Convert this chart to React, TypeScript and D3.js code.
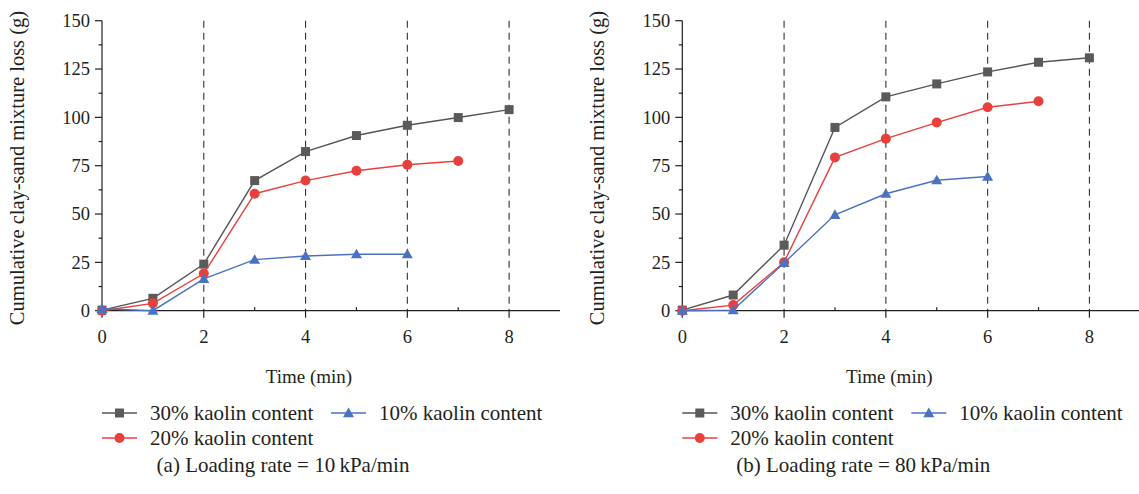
import React from "react";
import * as d3 from "d3";

const timeA = [0, 1, 2, 3, 4, 5, 6, 7, 8];
const a30 = [0.3, 6.4, 24.1, 67.3, 82.3, 90.6, 95.9, 99.9, 104];
const a20 = [0, 3.8, 19.2, 60.5, 67.3, 72.4, 75.5, 77.4];
const a10 = [1, 0, 16.5, 26.4, 28.3, 29.2, 29.2];

const b30 = [0.3, 8.1, 33.9, 94.8, 110.6, 117.3, 123.5, 128.5, 130.8];
const b20 = [0, 2.9, 25.1, 79.3, 89.0, 97.3, 105.2, 108.3];
const b10 = [0, 0.3, 24.7, 49.6, 60.5, 67.5, 69.4];

const yTicks = [0, 25, 50, 75, 100, 125, 150];
const xTicks = [0, 2, 4, 6, 8];
const dashedAt = [2, 4, 6, 8];
const seriesNames = ["30% kaolin content", "20% kaolin content", "10% kaolin content"];
const captions = ["(a) Loading rate = 10\u2009kPa/min", "(b) Loading rate = 80\u2009kPa/min"];

const colors = { s30: "#5a5a5a", s20: "#e8403c", s10: "#4a72c0" };
const FONT = "'Liberation Serif', 'Times New Roman', serif";

function Marker({ kind, x, y, color }: { kind: string; x: number; y: number; color: string }) {
  if (kind === "square") return <rect x={x - 4.5} y={y - 4.5} width={9} height={9} fill={color} />;
  if (kind === "circle") return <circle cx={x} cy={y} r={5} fill={color} />;
  const s = 5.5;
  return <path d={`M${x},${y - s}L${x + s},${y + s * 0.75}L${x - s},${y + s * 0.75}Z`} fill={color} />;
}

function Panel({ ox, s30, s20, s10, caption }: { ox: number; s30: number[]; s20: number[]; s10: number[]; caption: string }) {
  const x = d3.scaleLinear().domain([0, 9]).range([ox + 102, ox + 560]);
  const y = d3.scaleLinear().domain([0, 150]).range([310.7, 20.7]);
  const line = d3.line<number>().x((_, i) => x(timeA[i])).y((d) => y(d));
  const series = [
    { data: s30, color: colors.s30, marker: "square", lc: "#555" },
    { data: s20, color: colors.s20, marker: "circle", lc: colors.s20 },
    { data: s10, color: colors.s10, marker: "triangle", lc: colors.s10 },
  ];
  const minorY = d3.range(12.5, 150, 25);
  const minorX = [1, 3, 5, 7];
  const x0 = x(0);
  const y0 = y(0);
  const legend = [
    { name: seriesNames[0], s: series[0], lx: ox + 102, ly: 413 },
    { name: seriesNames[2], s: series[2], lx: ox + 331, ly: 413 },
    { name: seriesNames[1], s: series[1], lx: ox + 102, ly: 438 },
  ];
  return (
    <g fontFamily={FONT} style={{ fontFamily: FONT }} fill="#231f20">
      {dashedAt.map((t) => (
        <line key={t} x1={x(t)} x2={x(t)} y1={y(150)} y2={y0} stroke="#333" strokeWidth={1.1} strokeDasharray="7,5" />
      ))}
      <line x1={x0} x2={x0} y1={y(150)} y2={y0} stroke="#231f20" strokeWidth={1.2} />
      <line x1={x0} x2={x(9)} y1={y0} y2={y0} stroke="#231f20" strokeWidth={1.2} />
      {yTicks.map((t) => (
        <g key={t}>
          <line x1={x0 - 7} x2={x0} y1={y(t)} y2={y(t)} stroke="#231f20" strokeWidth={1.2} />
          <text x={x0 - 12} y={y(t)} dy="0.34em" textAnchor="end" fontSize={18.5}>{t}</text>
        </g>
      ))}
      {minorY.map((t) => (
        <line key={t} x1={x0 - 3.5} x2={x0} y1={y(t)} y2={y(t)} stroke="#231f20" strokeWidth={1.2} />
      ))}
      {xTicks.map((t) => (
        <g key={t}>
          <line x1={x(t)} x2={x(t)} y1={y0} y2={y0 + 7} stroke="#231f20" strokeWidth={1.2} />
          <text x={x(t)} y={343} textAnchor="middle" fontSize={18.5}>{t}</text>
        </g>
      ))}
      {minorX.map((t) => (
        <line key={t} x1={x(t)} x2={x(t)} y1={y0} y2={y0 - 3.5} stroke="#231f20" strokeWidth={1.2} />
      ))}
      <text transform={`translate(${ox + 24},${168}) rotate(-90)`} textAnchor="middle" fontSize={20.5}>
        Cumulative clay-sand mixture loss (g)
      </text>
      <text x={ox + 309} y={383} textAnchor="middle" fontSize={19}>Time (min)</text>
      {series.map((s, i) => (
        <g key={i}>
          <path d={line(s.data) || ""} fill="none" stroke={s.lc} strokeWidth={1.4} />
          {s.data.map((d, j) => (
            <Marker key={j} kind={s.marker} x={x(timeA[j])} y={y(d)} color={s.color} />
          ))}
        </g>
      ))}
      {legend.map((l, i) => (
        <g key={i}>
          <line x1={l.lx} x2={l.lx + 35} y1={l.ly} y2={l.ly} stroke={l.s.lc} strokeWidth={1.6} />
          <Marker kind={l.s.marker} x={l.lx + 17.5} y={l.ly} color={l.s.color} />
          <text x={l.lx + 48} y={l.ly} dy="0.33em" fontSize={21}>{l.name}</text>
        </g>
      ))}
      <text x={ox + 283} y={472} textAnchor="middle" fontSize={21}>{caption}</text>
    </g>
  );
}

export default function App() {
  return (
    <svg width={1139} height={494} style={{ position: "absolute", left: 0, top: 0, background: "#fff" }}>
      <rect width={1139} height={494} fill="#fff" />
      <Panel ox={0} s30={a30} s20={a20} s10={a10} caption={captions[0]} />
      <Panel ox={580.3} s30={b30} s20={b20} s10={b10} caption={captions[1]} />
    </svg>
  );
}
